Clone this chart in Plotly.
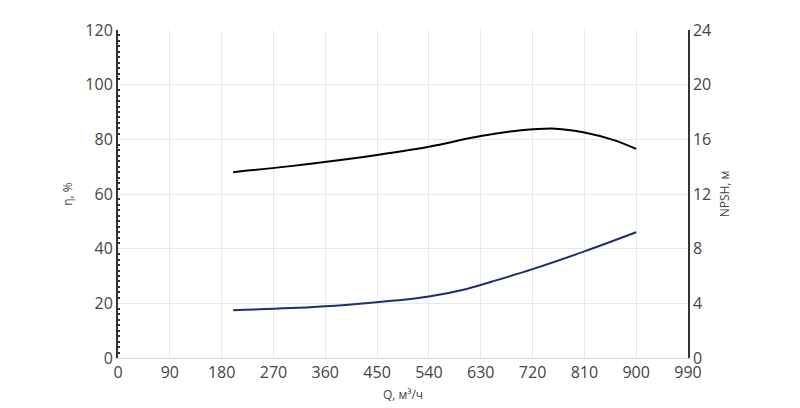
import plotly.graph_objs as go

# Flow, efficiency and NPSH
q_eff = [200, 300, 400, 450, 540, 630, 700, 760, 810, 860, 900]
eff = [68, 70.2, 72.8, 74.3, 77.3, 81.2, 83.3, 83.9, 82.5, 79.8, 76.5]

q_npsh = [200, 300, 400, 480, 540, 600, 650, 720, 810, 900]
npsh = [3.5, 3.65, 3.9, 4.2, 4.5, 5.0, 5.6, 6.5, 7.8, 9.2]

x_ticks = list(range(0, 991, 90))
font = dict(family="Open Sans", size=16, color="#444")

fig = go.Figure()
fig.add_trace(go.Scatter(x=q_eff, y=eff, mode="lines", line=dict(color="black", width=2, shape="spline"), yaxis="y"))
fig.add_trace(go.Scatter(x=q_npsh, y=npsh, mode="lines", line=dict(color="#1f2f6b", width=2, shape="spline"), yaxis="y2"))

fig.update_layout(
    width=800, height=408,
    margin=dict(l=110, r=120, t=22, b=58, autoexpand=False),
    plot_bgcolor="white", paper_bgcolor="white",
    showlegend=False,
    font=font,
    xaxis=dict(
        range=[0, 990], tickvals=x_ticks, showgrid=True, gridcolor="#e6e9f0",
        showline=True, linecolor="#c8d4ea", linewidth=1, zeroline=False, automargin=False,
        title=dict(text="Q, м³/ч", font=dict(size=12, color="#444"), standoff=8),
    ),
    yaxis=dict(
        range=[0, 120], dtick=20, showgrid=True, gridcolor="#e6e9f0",
        showline=True, linecolor="#333", linewidth=2, zeroline=False, automargin=False,
        ticks="", minor=dict(dtick=2, ticks="inside", ticklen=2, tickwidth=2, tickcolor="#333", showgrid=False),
        title=dict(text="η, %", font=dict(size=12, color="#444"), standoff=10),
    ),
    yaxis2=dict(
        range=[0, 24], dtick=4, overlaying="y", side="right", showgrid=False, automargin=False,
        showline=True, linecolor="#333", linewidth=1.5, zeroline=False,
        title=dict(text="NPSH, м", font=dict(size=12, color="#444"), standoff=10),
    ),
)

fig.write_html("out.html")
